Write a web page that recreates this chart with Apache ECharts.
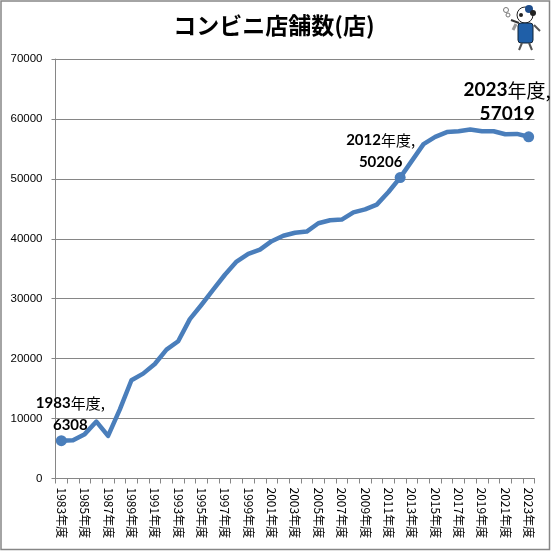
<!DOCTYPE html>
<html><head><meta charset="utf-8">
<style>html,body{margin:0;padding:0;background:#fff}#c{width:551px;height:551px}</style>
<script src="https://cdn.jsdelivr.net/npm/echarts@6/dist/echarts.min.js"></script>
</head><body><div id="c"></div>
<script>
const titleText = 'コンビニ店舗数(店)';
const years = [1983,1984,1985,1986,1987,1988,1989,1990,1991,1992,1993,1994,1995,1996,1997,1998,1999,2000,2001,2002,2003,2004,2005,2006,2007,2008,2009,2010,2011,2012,2013,2014,2015,2016,2017,2018,2019,2020,2021,2022,2023];
const stores = [6308,6400,7400,9500,7100,11500,16400,17500,19100,21500,22900,26600,29000,31500,34000,36200,37500,38200,39600,40500,41000,41200,42600,43100,43200,44400,44900,45700,47800,50206,53000,55800,57000,57800,57950,58250,57950,57950,57450,57500,57019];
const highlighted = [1983,2012,2023];
const labelOffsets = {1983:[9,6],2012:[-19.5,6.5],2023:[-21.5,0]};
const labelSizes = {1983:15,2012:15,2023:19};
const labelLines = {1983:22,2012:22,2023:24};

const categories = years.map(y => y + '年度');
const chart = echarts.init(document.getElementById('c'), null, {renderer:'canvas'});
const seriesData = stores.map((v,i) => {
  const y = years[i];
  if (!highlighted.includes(y)) return {value:v, symbol:'none'};
  const s = labelSizes[y];
  const bold = {fontFamily:'Lato',fontWeight:'bold',fontSize:s,color:'#000',lineHeight:labelLines[y]};
  const cjk = {fontFamily:'"Noto Sans CJK JP"',fontWeight:'normal',fontSize:s,color:'#000',lineHeight:labelLines[y]};
  return {
    value:v, symbol:'circle', symbolSize:11,
    label:{show:true, position:'top', offset:labelOffsets[y],
      formatter:`{b|${y}}{n|年度,}\n{b|${v}}`,
      rich:{b:bold,n:cjk}, align:'center'}
  };
});
chart.setOption({
  animation:false,
  backgroundColor:'#fff',
  title:{text:titleText,left:269,top:9,textAlign:'center',
    textStyle:{fontFamily:'"Noto Sans CJK JP"',fontWeight:'bold',fontSize:23,color:'#000'}},
  grid:{left:55.5,right:16.5,top:59,bottom:72.5,containLabel:false},
  xAxis:{type:'category',data:categories,boundaryGap:true,
    axisLine:{lineStyle:{color:'#868686',width:1}},
    axisTick:{show:true,alignWithLabel:false,interval:0,length:5,lineStyle:{color:'#868686'}},
    axisLabel:{interval:1,rotate:-90,margin:9,fontSize:12,color:'#000',
      fontFamily:'"Noto Sans CJK JP"',verticalAlign:'middle'},
    splitLine:{show:false}},
  yAxis:{type:'value',min:0,max:70000,interval:10000,
    axisLine:{show:true,lineStyle:{color:'#868686',width:1}},
    axisTick:{show:true,length:4,lineStyle:{color:'#868686'}},
    axisLabel:{fontSize:11.5,margin:13,color:'#000',fontFamily:'"Liberation Sans"',formatter:v => String(v)},
    splitLine:{show:true,lineStyle:{color:'#868686',width:1}}},
  series:[{type:'line',data:seriesData,showSymbol:true,showAllSymbol:true,smooth:false,
    lineStyle:{color:'#4a7ebb',width:4.5,join:'round',cap:'round'},
    itemStyle:{color:'#4a7ebb'},z:3}],
  graphic:[
    {type:'rect',shape:{x:1,y:1,width:548.5,height:548.5},style:{fill:'none',stroke:'#868686',lineWidth:1.5},silent:true,z:-1},
    {type:'group',left:503,top:5,silent:true,children:[
      {type:'circle',shape:{cx:4,cy:10,r:2.5},style:{fill:'#fff',stroke:'#777',lineWidth:1}},
      {type:'circle',shape:{cx:6,cy:15,r:2},style:{fill:'#fff',stroke:'#777',lineWidth:1}},
      {type:'line',shape:{x1:9,y1:20,x2:17,y2:23},style:{stroke:'#333',lineWidth:2}},
      {type:'circle',shape:{cx:23,cy:15,r:8},style:{fill:'#fff',stroke:'#222',lineWidth:1}},
      {type:'circle',shape:{cx:27,cy:9,r:4},style:{fill:'#1f4e8c'}},
      {type:'circle',shape:{cx:19,cy:15,r:2},style:{fill:'#222'}},
      {type:'circle',shape:{cx:31,cy:13,r:3},style:{fill:'#222'}},
      {type:'line',shape:{x1:14,y1:24,x2:11,y2:30},style:{stroke:'#999',lineWidth:3}},
      {type:'line',shape:{x1:32,y1:25,x2:38,y2:31},style:{stroke:'#555',lineWidth:2}},
      {type:'rect',shape:{x:16,y:23,width:15,height:20,r:3},style:{fill:'#1f5fa8',stroke:'#123',lineWidth:1}},
      {type:'line',shape:{x1:20,y1:43,x2:17,y2:50},style:{stroke:'#555',lineWidth:2}},
      {type:'line',shape:{x1:27,y1:43,x2:30,y2:50},style:{stroke:'#555',lineWidth:2}}
    ]}
  ]
});
</script></body></html>
